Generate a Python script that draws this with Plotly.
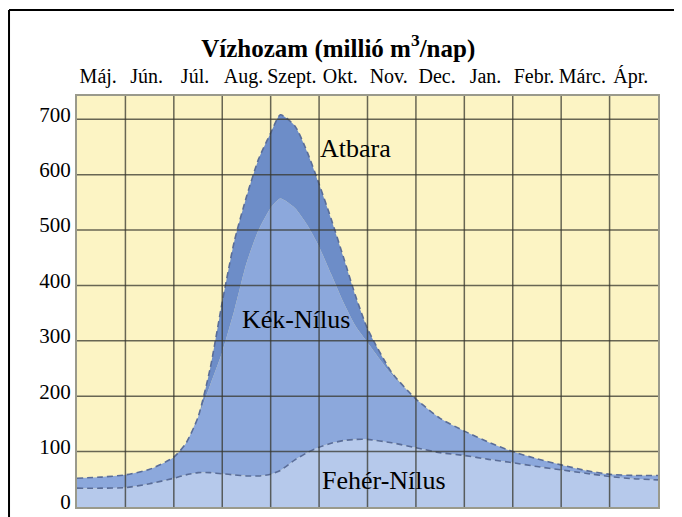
import plotly.graph_objects as go

# month labels (hydrological year May -> April)
months = ["Máj.", "Jún.", "Júl.", "Aug.", "Szept.", "Okt.",
          "Nov.", "Dec.", "Jan.", "Febr.", "Márc.", "Ápr."]

# time in months counted from the start of May
t = [0, 0.5, 1, 1.5, 2, 2.25, 2.5, 2.75, 3, 3.25, 3.5, 3.75, 4, 4.2, 4.5, 4.75,
     5, 5.25, 5.5, 5.75, 6, 6.5, 7, 7.5, 8, 8.5, 9, 9.5, 10, 10.5, 11, 11.5, 12]

# discharge, million m3/day (stacked contributions)
feher_nilus = [34, 34, 35, 42, 52, 58, 62, 62, 60, 58, 56, 56, 59, 66, 85, 98,
               108, 115, 120, 122, 122, 116, 107, 98, 93, 86, 80, 73, 67, 61, 55, 51, 49]
kek_nilus = [18, 20, 23, 26, 38, 57, 100, 158, 220, 297, 384, 444, 481, 491, 455, 412,
             362, 305, 250, 205, 175, 123, 88, 62, 44, 31, 20, 14, 9, 5, 4, 6, 8]
atbara = [0, 0, 0, 0, 0, 0, 0, 30, 90, 125, 120, 128, 135, 151, 148, 132,
          113, 100, 82, 55, 25, 4, 0, 0, 0, 0, 0, 0, 0, 0, 0, 0, 0]

y_ticks = [0, 100, 200, 300, 400, 500, 600, 700]

serif = "Liberation Serif"
dash_col = "#5a6d98"

fig = go.Figure()
fig.add_trace(go.Scatter(x=t, y=feher_nilus, stackgroup="nile", mode="lines", name="Fehér-Nílus",
                         line=dict(color=dash_col, width=1.6, dash="6px,4px", shape="spline", smoothing=0.6),
                         fillcolor="#b6c9eb"))
fig.add_trace(go.Scatter(x=t, y=kek_nilus, stackgroup="nile", mode="lines", name="Kék-Nílus",
                         line=dict(color="#8ca8dc", width=0, shape="spline", smoothing=0.6),
                         fillcolor="#8ca8dc"))
fig.add_trace(go.Scatter(x=t, y=atbara, stackgroup="nile", mode="lines", name="Atbara",
                         line=dict(color=dash_col, width=1.6, dash="6px,4px", shape="spline", smoothing=0.6),
                         fillcolor="#6d8dc8"))

# grid drawn on top of the areas, as in the original
grid = dict(color="rgba(55,55,45,0.75)", width=1.5)
shapes = []
for v in y_ticks[1:]:
    shapes.append(dict(type="line", xref="paper", yref="y", x0=0, x1=1, y0=v, y1=v, line=grid, layer="above"))
for i in range(1, len(months)):
    shapes.append(dict(type="line", xref="x", yref="paper", x0=i, x1=i, y0=0, y1=1, line=grid, layer="above"))

# black frame around the figure (left and top)
frame = dict(color="black", width=2)
shapes.append(dict(type="line", xref="paper", yref="paper", x0=-0.117, x1=-0.117, y0=-0.05, y1=1.209, line=frame))
shapes.append(dict(type="line", xref="paper", yref="paper", x0=-0.117, x1=1.06, y0=1.209, y1=1.209, line=frame))

# page body adds an 8px offset, so the figure is a bit smaller than the window
fig.update_layout(
    width=674, height=509,
    margin=dict(l=69, r=24, t=88, b=10),
    paper_bgcolor="white",
    plot_bgcolor="#fcf4c4",
    showlegend=False,
    font=dict(family=serif, color="black"),
    title=dict(text="<b>Vízhozam (millió m<sup>3</sup>/nap)</b>", x=0.49, xref="container",
               y=0.921, yref="container", xanchor="center", yanchor="middle",
               font=dict(family=serif, size=25, color="black")),
    shapes=shapes,
)

fig.update_xaxes(range=[0, 12], side="top", tickvals=[i + 0.5 for i in range(len(months))],
                 ticktext=months, showgrid=False, zeroline=False, ticks="", automargin=False,
                 ticklabelstandoff=3, ticklabelshift=-3,
                 tickfont=dict(family=serif, size=20, color="black"),
                 showline=True, mirror=True, linecolor="#9a9a8c", linewidth=2)
fig.update_yaxes(range=[0, 742], tickvals=y_ticks, showgrid=False, zeroline=False, ticks="", automargin=False,
                 ticklabeloverflow="allow", ticklabelshift=-5,
                 tickfont=dict(family=serif, size=21, color="black"),
                 showline=True, mirror=True, linecolor="#9a9a8c", linewidth=2)

fig.add_annotation(x=5.75, y=647, text="Atbara", showarrow=False, font=dict(family=serif, size=26, color="black"))
fig.add_annotation(x=4.53, y=338, text="Kék-Nílus", showarrow=False, font=dict(family=serif, size=26, color="black"))
fig.add_annotation(x=6.34, y=48, text="Fehér-Nílus", showarrow=False, font=dict(family=serif, size=26, color="black"))

fig.write_html("out.html")
